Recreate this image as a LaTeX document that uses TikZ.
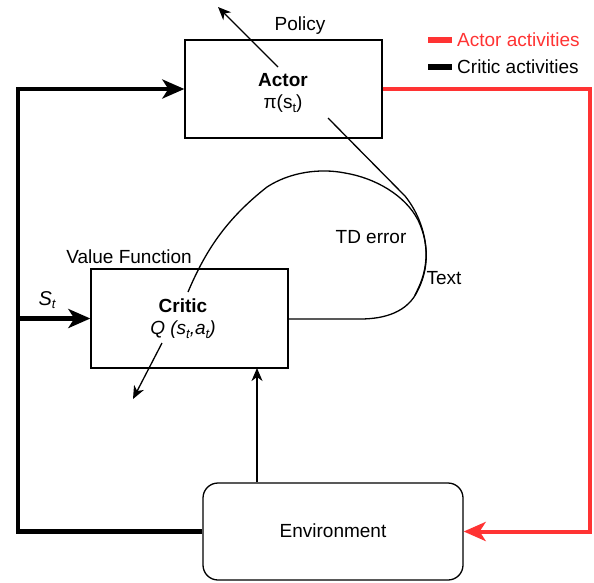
\documentclass[tikz,border=0pt]{standalone}
\usepackage{fontspec}
\setmainfont{Liberation Sans}
\usetikzlibrary{arrows.meta}
\definecolor{actred}{HTML}{FF3333}
\newcommand{\lowsub}[1]{\raisebox{-0.35ex}{\fontsize{13}{14}\selectfont #1}}
\begin{document}
\begin{tikzpicture}[x=1pt,y=-1pt,
  every node/.style={font=\fontsize{19}{22}\selectfont, inner sep=0pt},
  box/.style={draw, line width=1.3pt, fill=white},
  thickblack/.style={line width=4.5pt, line join=miter},
  bigtip/.style={-{Stealth[length=22pt,width=19pt,inset=6pt]}},
  thin/.style={line width=1.3pt},
  smalltip/.style={-{Stealth[length=13pt,width=11pt,inset=4pt]}}]
\useasboundingbox (0,0) rectangle (594,582);

% blocks
\node[box, minimum width=197pt, minimum height=98pt] (actor) at (283.5,89) {};
\node[box, minimum width=197pt, minimum height=99pt] (critic) at (189.5,318.5) {};
\node[box, rounded corners=15pt, minimum width=260pt, minimum height=97pt] (env) at (333,531.5) {};

\node[font=\fontsize{19}{22}\selectfont\bfseries] (actorlbl) at (283,80) {Actor};
\node (pi) at (283,104) {π(s\lowsub{t})};
\node[font=\fontsize{19}{22}\selectfont\bfseries] (criticlbl) at (183,306) {Critic};
\node[font=\fontsize{19}{22}\selectfont\itshape] (q) at (183,330) {Q (s\lowsub{t},a\lowsub{t})};
\node (envlbl) at (333,531) {Environment};
\node (policy) at (300,26) {Policy};
\node (vf) at (129,257) {Value Function};
\node (td) at (371,237) {TD error};
\node (txt) at (444,278) {Text};
\node[font=\fontsize{20}{22}\selectfont\itshape] (st) at (47,300) {S\lowsub{t}};

% legend
\fill[actred] (428,37) rectangle (452,43);
\node[anchor=west, text=actred] (leg1) at (457,40) {Actor activities};
\fill[black] (428,64) rectangle (452,70);
\node[anchor=west] (leg2) at (457,67) {Critic activities};

% critic feedback loop (black)
\coordinate (bl) at (18,531.5);
\coordinate (tl) at (18,89);
\coordinate (br) at (18,318.5);
\draw[thickblack, bigtip] (env.west) -- (bl) -- (tl) -- (actor.west);
\draw[thickblack, bigtip] (br) -- (critic.west);

% actor loop (red)
\coordinate (rt) at (590,89);
\coordinate (rb) at (590,531.5);
\draw[line width=4pt, color=actred, line join=miter, bigtip] (actor.east) -- (rt) -- (rb) -- (env.east);

% environment to critic
\draw[thin, smalltip] (env.north -| 257,0) -- (257,368);

% outputs of actor and critic
\coordinate (pstart) at (278,67);
\coordinate (pend) at (218,7);
\draw[thin, smalltip] (pstart) -- (pend);
\coordinate (cstart) at (162,343);
\coordinate (cend) at (133,399);
\draw[thin, smalltip] (cstart) -- (cend);

% TD error loop
\coordinate (c0) at (188,292);
\draw[thin] (c0) .. controls (205,252) and (225,220) .. (267,187)
  .. controls (290,172) and (320,168) .. (345,173)
  .. controls (375,178) and (405,195) .. (418,220)
  .. controls (430,245) and (428,270) .. (418,290)
  .. controls (408,312) and (385,319) .. (360,319)
  -- (critic.east |- 0,319);
\coordinate (a0) at (328,118);
\draw[thin] (a0) -- (405,196)
  .. controls (418,212) and (427,235) .. (426,258)
  .. controls (425,275) and (420,285) .. (415,295);
\end{tikzpicture}
\end{document}
